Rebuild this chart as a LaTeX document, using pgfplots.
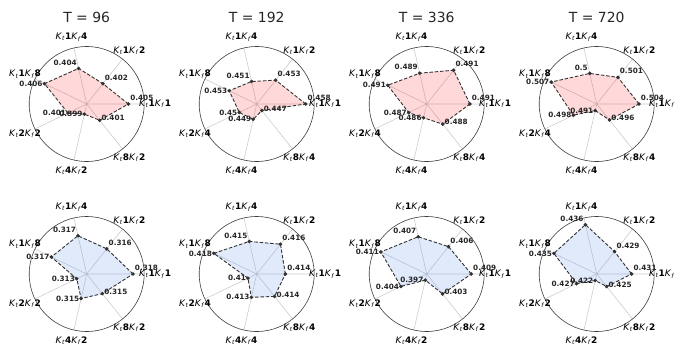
\documentclass[border=0pt]{standalone}
\usepackage{pgfplots}
\pgfplotsset{compat=1.18}
\usepackage{pgfplotstable}
\usepgfplotslibrary{polar}
\usepackage{fontspec}
\setmainfont{DejaVu Sans}
\definecolor{spoke}{RGB}{205,205,205}
\definecolor{rim}{RGB}{60,60,60}
\definecolor{edge}{RGB}{50,50,50}
\definecolor{redf}{RGB}{255,0,0}
\definecolor{bluef}{RGB}{100,149,237}

% angle and values of the eight charts
\pgfplotstableread{
a        va     vb     vc     vd     ve     vf     vg     vh
0        0.405  0.458  0.491  0.504  0.318  0.414  0.409  0.431
51.4286  0.402  0.453  0.491  0.501  0.316  0.416  0.406  0.429
102.8571 0.404  0.451  0.489  0.5    0.317  0.415  0.407  0.436
154.2857 0.406  0.453  0.491  0.507  0.317  0.418  0.411  0.435
205.7143 0.401  0.45   0.487  0.498  0.313  0.41   0.404  0.427
257.1429 0.399  0.449  0.486  0.491  0.315  0.413  0.397  0.422
308.5714 0.401  0.447  0.488  0.496  0.315  0.414  0.403  0.425
}\radar

\newcommand{\KK}[2]{\textit{K}\textsubscript{\textit{t}}\textbf{#1}\textit{K}\textsubscript{\textit{f}}\textbf{#2}}

\pgfplotsset{radar/.style={
  scale only axis, width=115bp, height=115bp,
  anchor=center,
  xmin=0, xmax=360, ymin=0, ymax=1,
  xtick={0,51.4286,102.8571,154.2857,205.7143,257.1429,308.5714},
  xticklabels={}, ytick=\empty,
  xmajorgrids, ymajorgrids=false,
  major grid style={spoke, line width=0.6pt},
  separate axis lines,
  x axis line style={rim, line width=0.6pt},
  y axis line style={draw=none},
  major tick length=0pt,
  clip=false,
}}

\tikzset{lab/.style={font=\fontsize{9}{10}\selectfont, text=black, anchor=center, inner sep=0pt},
  radlab/.code={%
    \pgfmathtruncatemacro\side{cos(\ang)>0 ? 1 : 0}%
    \pgfmathtruncatemacro\lift{\ang<120 ? 6 : (\ang>300 ? 2 : 0)}%
    \ifnum\side=1 \tikzset{anchor=west}\else\tikzset{anchor=east}\fi
    \tikzset{yshift=\lift bp}}}

\newcommand{\radarplot}[8]{%
\begin{polaraxis}[radar, at={(#1bp,-#2bp)}]
\addplot[draw=edge, dash pattern=on 3.5bp off 1.8bp, line width=0.9bp,
  fill=#6, fill opacity=#7,
  mark=*, mark size=1.3bp,
  mark options={solid, fill=edge, draw=edge, fill opacity=1},
  nodes near coords, point meta=explicit symbolic,
  visualization depends on={rawx\as\ang},
  every node near coord/.append style={/tikz/radlab,
     font=\fontsize{7.3}{8}\selectfont\bfseries, text=black!85,
     fill opacity=1, text opacity=1, inner sep=1.5bp}]
  table[x=a, y expr={(\thisrow{#3}-#4)/#5}, meta=#3] {\radar} -- cycle;
\node[lab] at (axis cs:0,1.19) {\KK{1}{1}};
\node[lab] at (axis cs:51.4286,1.19) {\KK{1}{2}};
\node[lab] at (axis cs:102.8571,1.19) {\KK{1}{4}};
\node[lab] at (axis cs:154.2857,1.19) {\KK{1}{8}};
\node[lab] at (axis cs:205.7143,1.19) {\KK{2}{#8}};
\node[lab] at (axis cs:257.1429,1.19) {\KK{4}{#8}};
\node[lab] at (axis cs:308.5714,1.19) {\KK{8}{#8}};
\end{polaraxis}}

\begin{document}
\begin{tikzpicture}
\path[use as bounding box] (0bp,0bp) rectangle (675bp,-346bp);

\radarplot{86.7}{104}{va}{0.397005}{0.011025}{redf}{0.15}{2}
\radarplot{256.7}{104}{vb}{0.444765}{0.015525}{redf}{0.15}{4}
\radarplot{426.7}{104}{vc}{0.48357}{0.009885}{redf}{0.15}{4}
\radarplot{596.7}{104}{vd}{0.488545}{0.02099}{redf}{0.15}{4}

\radarplot{86.7}{274}{ve}{0.311435}{0.008155}{bluef}{0.2}{2}
\radarplot{256.7}{274}{vf}{0.40795}{0.01214}{bluef}{0.2}{4}
\radarplot{426.7}{274}{vg}{0.395015}{0.01804}{bluef}{0.2}{2}
\radarplot{596.7}{274}{vh}{0.41989}{0.01829}{bluef}{0.2}{2}

\foreach \cx/\t in {86.7/96, 256.7/192, 426.7/336, 596.7/720}
  \node[font=\fontsize{14}{16}\selectfont, text=black!85] at (\cx bp,-17.5bp) {T = \t};
\end{tikzpicture}
\end{document}
